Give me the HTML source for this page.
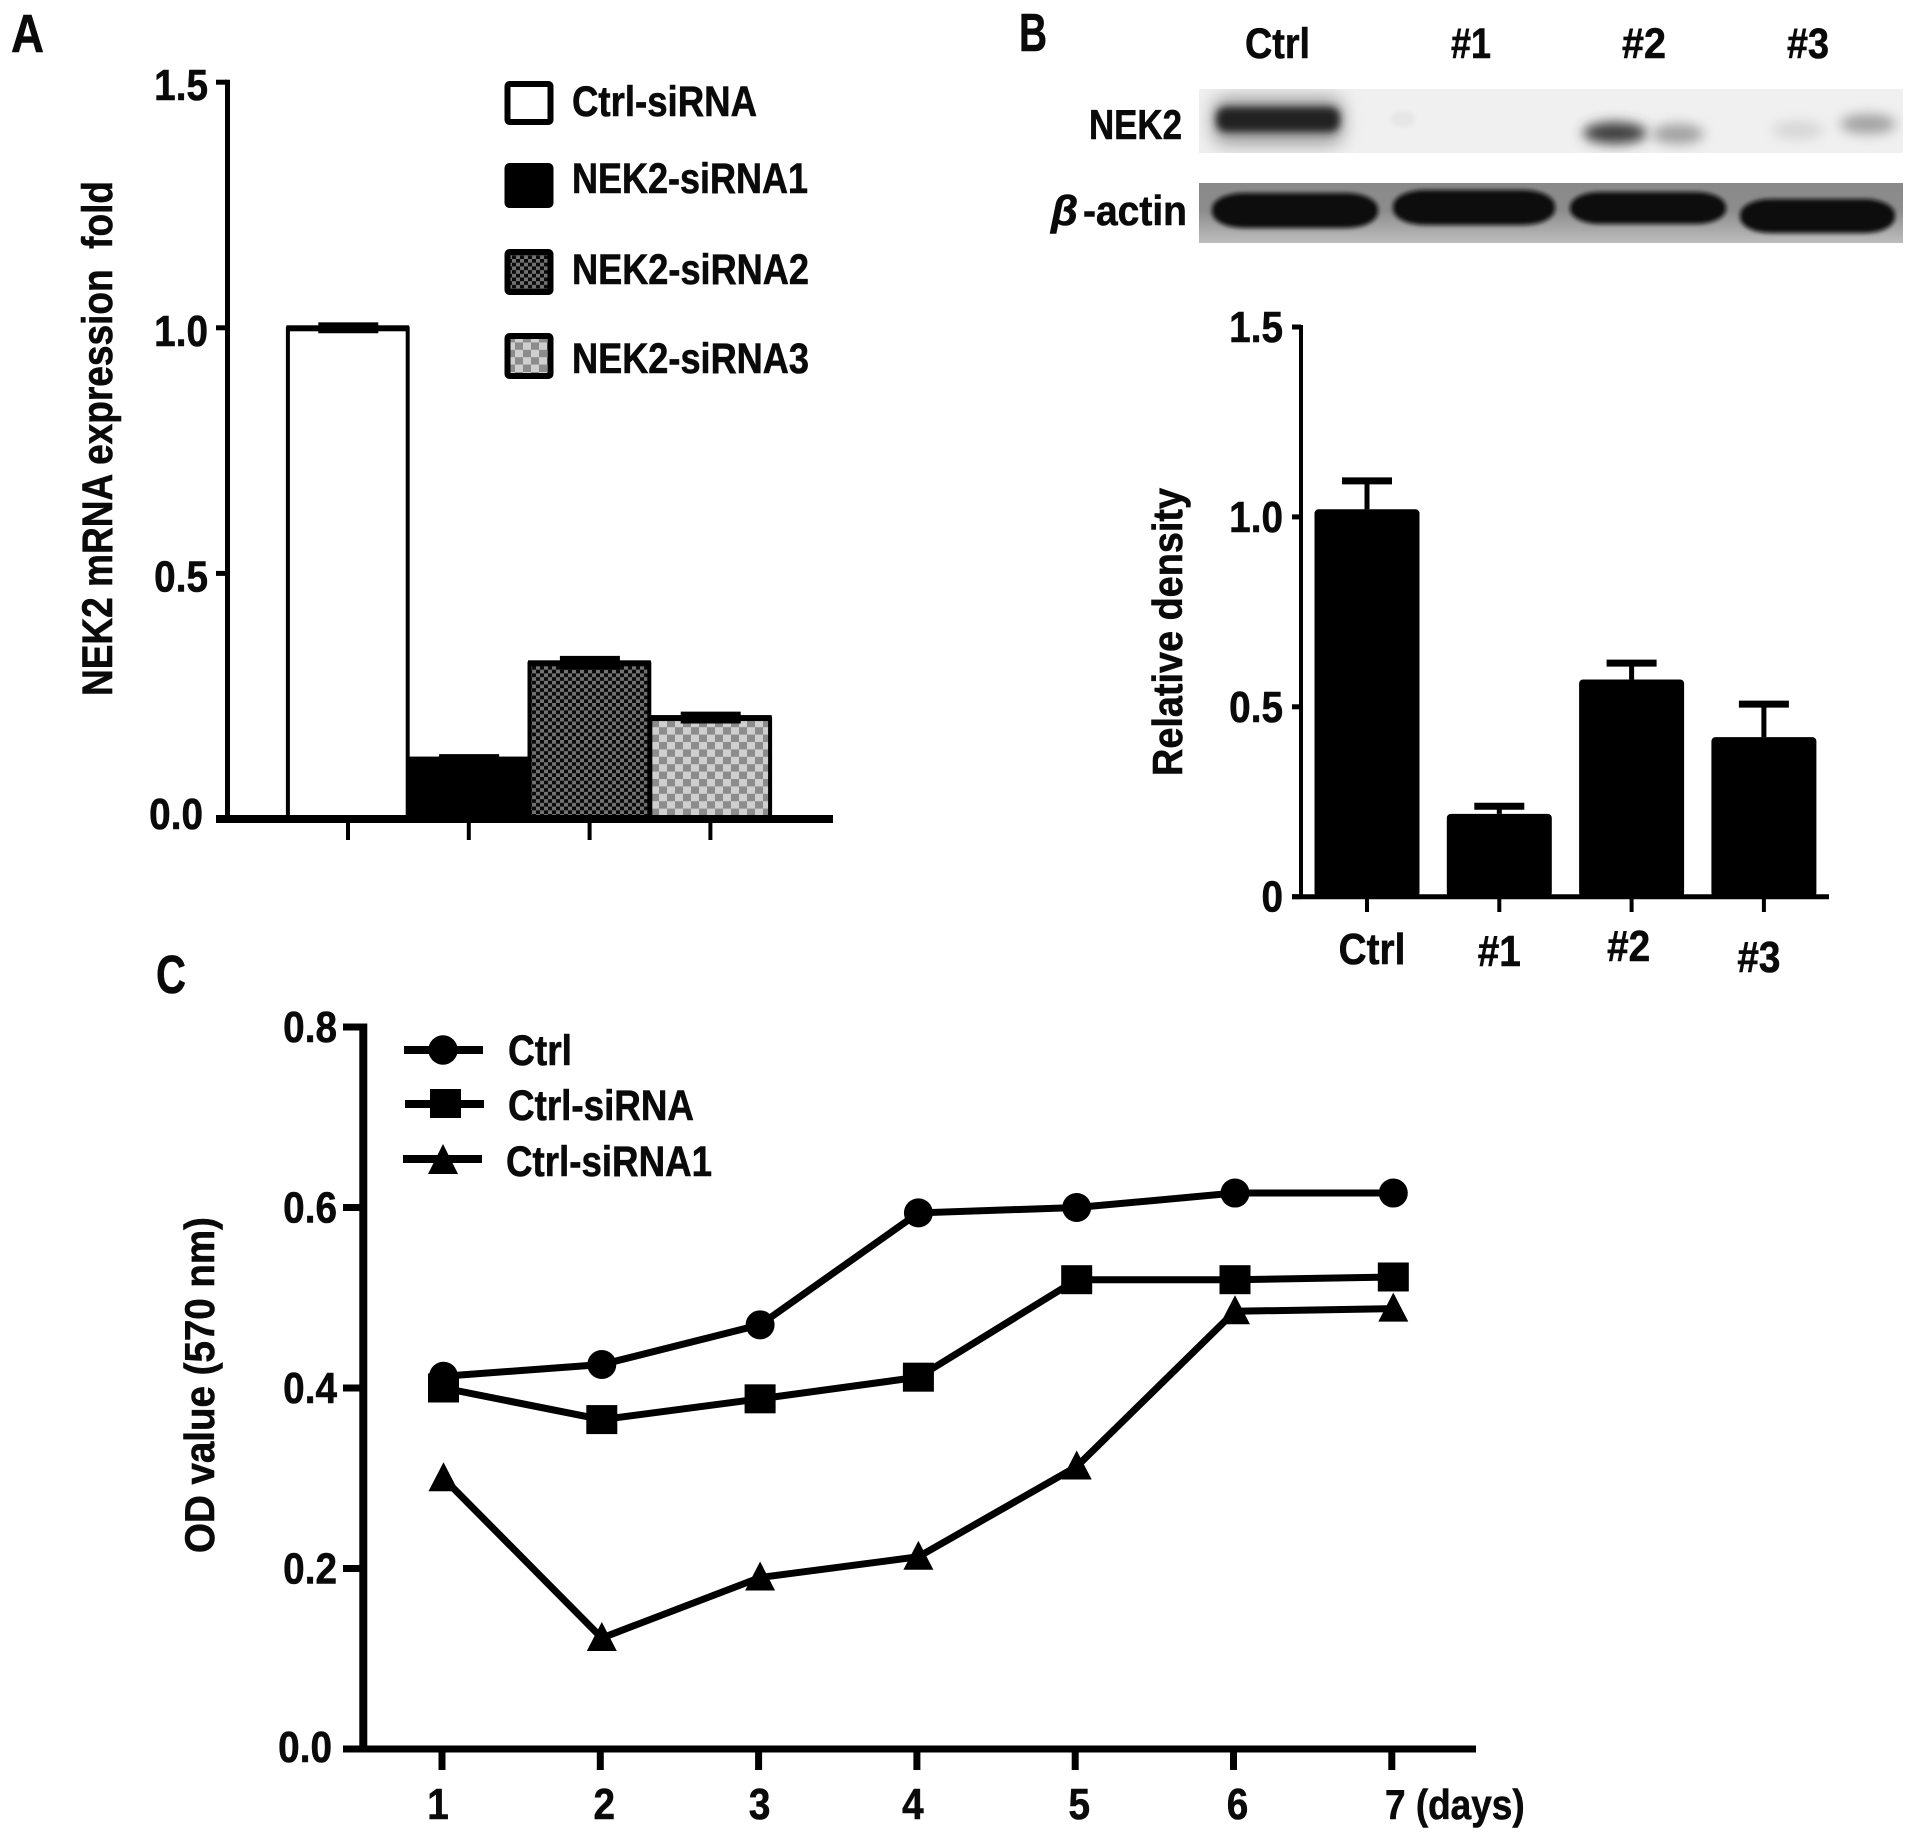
<!DOCTYPE html>
<html lang="en">
<head>
<meta charset="utf-8">
<title>NEK2 siRNA figure</title>
<style>
html,body{margin:0;padding:0;background:#fff;}
svg{display:block;}
text{font-family:"Liberation Sans",sans-serif;font-weight:bold;fill:#0a0a0a;stroke:#0a0a0a;stroke-width:.6px;white-space:pre;}
</style>
</head>
<body>
<svg id="figure" xmlns="http://www.w3.org/2000/svg" width="1913" height="1840" viewBox="0 0 1913 1840">
<defs>
<pattern id="check-dark" width="8" height="7.4" patternUnits="userSpaceOnUse" x="0" y="0">
<rect width="8" height="7.4" fill="#0a0a0a"/>
<rect width="4" height="3.7" fill="#727272"/>
<rect x="4" y="3.7" width="4" height="3.7" fill="#727272"/>
</pattern>
<pattern id="check-light" width="16" height="14.8" patternUnits="userSpaceOnUse" x="3" y="2">
<rect width="16" height="14.8" fill="#cfcfcf"/>
<rect width="8" height="7.4" fill="#8c8c8c"/>
<rect x="8" y="7.4" width="8" height="7.4" fill="#8c8c8c"/>
</pattern>
<linearGradient id="actin-bg" x1="0" y1="0" x2="0" y2="1">
<stop offset="0" stop-color="#8a8a8a"/>
<stop offset="0.45" stop-color="#8c8c8c"/>
<stop offset="1" stop-color="#bdbdbd"/>
</linearGradient>
<filter id="blur-soft" x="-30%" y="-60%" width="160%" height="220%"><feGaussianBlur stdDeviation="6"/></filter>
<filter id="blur-band" x="-20%" y="-60%" width="140%" height="220%"><feGaussianBlur stdDeviation="4"/></filter>
<filter id="blur-hard" x="-20%" y="-50%" width="140%" height="200%"><feGaussianBlur stdDeviation="2.2"/></filter>
<filter id="blur-halo" x="-20%" y="-80%" width="140%" height="260%"><feGaussianBlur stdDeviation="9"/></filter>
<clipPath id="clip-blot1"><rect x="1199" y="89" width="704" height="64"/></clipPath>
<clipPath id="clip-blot2"><rect x="1199" y="183" width="704" height="60"/></clipPath>
</defs>

<text x="11" y="52" font-size="54" textLength="33" lengthAdjust="spacingAndGlyphs">A</text>
<text x="1019" y="51" font-size="54" textLength="28" lengthAdjust="spacingAndGlyphs">B</text>
<text x="156" y="993" font-size="54" textLength="30" lengthAdjust="spacingAndGlyphs">C</text>

<g>
<rect x="507.5" y="84" width="43" height="38" rx="2" fill="#fff" stroke="#000" stroke-width="6"/>
<text x="572" y="116" font-size="43" textLength="185" lengthAdjust="spacingAndGlyphs">Ctrl-siRNA</text>
<rect x="507.5" y="166" width="43" height="39" rx="2" fill="#000" stroke="#000" stroke-width="6"/>
<text x="572" y="193" font-size="43" textLength="236" lengthAdjust="spacingAndGlyphs">NEK2-siRNA1</text>
<rect x="507.5" y="252" width="43" height="40" rx="2" fill="url(#check-dark)" stroke="#000" stroke-width="6"/>
<text x="572" y="284" font-size="43" textLength="237" lengthAdjust="spacingAndGlyphs">NEK2-siRNA2</text>
<rect x="507.5" y="336" width="43" height="40" rx="2" fill="url(#check-light)" stroke="#000" stroke-width="6"/>
<text x="572" y="373" font-size="43" textLength="237" lengthAdjust="spacingAndGlyphs">NEK2-siRNA3</text>
</g>

<g>
<text x="1245" y="58" font-size="43" textLength="65" lengthAdjust="spacingAndGlyphs">Ctrl</text>
<text x="1451" y="58" font-size="43" textLength="40" lengthAdjust="spacingAndGlyphs">#1</text>
<text x="1622" y="58" font-size="43" textLength="44" lengthAdjust="spacingAndGlyphs">#2</text>
<text x="1787" y="58" font-size="43" textLength="42" lengthAdjust="spacingAndGlyphs">#3</text>
<text x="1089" y="139" font-size="42" textLength="93" lengthAdjust="spacingAndGlyphs">NEK2</text>
<text x="1051" y="225" font-size="42" font-style="italic" textLength="27" lengthAdjust="spacingAndGlyphs">β</text>
<text x="1083" y="225" font-size="42" textLength="104" lengthAdjust="spacingAndGlyphs">-actin</text>
</g>

<g clip-path="url(#clip-blot1)">
<rect x="1199" y="89" width="704" height="64" fill="#f0f0f0"/>
<rect x="1213" y="98" width="130" height="46" rx="12" fill="#9a9a9a" filter="url(#blur-halo)"/>
<rect x="1216" y="107" width="124" height="25" rx="10" fill="#202020" filter="url(#blur-band)"/>
<ellipse cx="1403" cy="119" rx="12" ry="8" fill="#e6e6e6" filter="url(#blur-hard)"/>
<ellipse cx="1615" cy="133" rx="32" ry="11" fill="#3c3c3c" filter="url(#blur-soft)"/>
<ellipse cx="1678" cy="134" rx="26" ry="10" fill="#a0a0a0" filter="url(#blur-soft)"/>
<ellipse cx="1798" cy="130" rx="26" ry="9" fill="#d6d6d6" filter="url(#blur-soft)"/>
<ellipse cx="1868" cy="124" rx="28" ry="10" fill="#a2a2a2" filter="url(#blur-soft)"/>
</g>
<g clip-path="url(#clip-blot2)">
<rect x="1199" y="183" width="704" height="60" fill="url(#actin-bg)"/>
<rect x="1212" y="193" width="166" height="35" rx="32" ry="16" fill="#0c0c0c" filter="url(#blur-hard)"/>
<rect x="1393" y="190" width="162" height="35" rx="32" ry="16" fill="#0c0c0c" filter="url(#blur-hard)"/>
<rect x="1570" y="192" width="156" height="32" rx="30" ry="15" fill="#0c0c0c" filter="url(#blur-hard)"/>
<rect x="1740" y="199" width="155" height="34" rx="30" ry="16" fill="#0c0c0c" filter="url(#blur-hard)"/>
</g>

<g>
<line x1="404" y1="1050" x2="483" y2="1050" stroke="#000" stroke-width="8"/>
<circle cx="443" cy="1050" r="14.7" fill="#000"/>
<text x="508" y="1065" font-size="43" textLength="64" lengthAdjust="spacingAndGlyphs">Ctrl</text>
<line x1="405" y1="1104" x2="484" y2="1104" stroke="#000" stroke-width="8"/>
<rect x="430" y="1089" width="31" height="29" fill="#000"/>
<text x="508" y="1120" font-size="43" textLength="186" lengthAdjust="spacingAndGlyphs">Ctrl-siRNA</text>
<line x1="403" y1="1159" x2="482" y2="1159" stroke="#000" stroke-width="8"/>
<polygon points="443,1144 458,1174 428,1174" fill="#000"/>
<text x="506" y="1176" font-size="43" textLength="206" lengthAdjust="spacingAndGlyphs">Ctrl-siRNA1</text>
</g>

<g id="panel-a"></g>
<g id="panel-b"></g>
<g id="panel-c"></g>
</svg>

<script>
// Panel A data
const aCategories = ['Ctrl-siRNA', 'NEK2-siRNA1', 'NEK2-siRNA2', 'NEK2-siRNA3'];
const aValues = [1.0, 0.122, 0.318, 0.2065];
const aErrors = [0.006, 0.005, 0.009, 0.007];
const aTickValues = [0, 0.5, 1.0, 1.5];
const aTickLabels = ['0.0', '0.5', '1.0', '1.5'];

// Panel B data
const bCategories = ['Ctrl', '#1', '#2', '#3'];
const bValues = [1.02, 0.218, 0.572, 0.42];
const bErrors = [0.075, 0.02, 0.043, 0.087];
const bTickValues = [0, 0.5, 1.0, 1.5];
const bTickLabels = ['0', '0.5', '1.0', '1.5'];

// Panel C data
const cDays = [1, 2, 3, 4, 5, 6, 7];
const cDayLabels = ['1', '2', '3', '4', '5', '6', '7 (days)'];
const cCtrl = [0.413, 0.426, 0.47, 0.594, 0.6, 0.616, 0.616];
const cCtrlSirna = [0.40, 0.365, 0.388, 0.412, 0.52, 0.52, 0.523];
const cCtrlSirna1 = [0.30, 0.123, 0.19, 0.213, 0.313, 0.485, 0.488];
const cTickValues = [0, 0.2, 0.4, 0.6, 0.8];
const cTickLabels = ['0.0', '0.2', '0.4', '0.6', '0.8'];

const NS = 'http://www.w3.org/2000/svg';
function mk(parent, tag, attrs) {
  const node = document.createElementNS(NS, tag);
  for (const k in attrs) node.setAttribute(k, attrs[k]);
  parent.appendChild(node);
  return node;
}
function label(parent, x, y, str, size, anchor) {
  const t = mk(parent, 'text', {
    transform: 'translate(' + x + ',' + y + ') scale(0.88,1)',
    'font-size': size,
    'text-anchor': anchor
  });
  t.textContent = str;
  return t;
}
function axisLine(parent, x1, y1, x2, y2, w) {
  return mk(parent, 'line', {x1: x1, y1: y1, x2: x2, y2: y2, stroke: '#000', 'stroke-width': w});
}

/* ---------- Panel A ---------- */
(function () {
  const g = document.getElementById('panel-a');
  const y0 = 819, perUnit = 491.2;
  const yA = v => y0 - v * perUnit;
  const xA = i => 348 + i * 120.8;
  const barW = 120.8;
  const barShift = -1.2;
  const fills = ['#fff', '#000', 'url(#check-dark)', 'url(#check-light)'];

  aValues.forEach(function (v, i) {
    const bar = mk(g, 'rect', {
      x: xA(i) - barW / 2 + 1.5 + barShift, y: yA(v), width: barW - 1, height: y0 - yA(v),
      fill: fills[i], stroke: '#000', 'stroke-width': 4, 'stroke-linejoin': 'round'
    });
    
    
    const top = mk(g, 'rect', {
      x: xA(i) - barW / 2 + barShift, y: yA(v) - 2.5, width: barW + 2, height: 6, fill: '#000'
    });
    
    
    const cap = mk(g, 'rect', {
      x: xA(i) - 30 + 1.5 + barShift, y: yA(v + aErrors[i]) - 2.5, width: 60,
      height: yA(v - aErrors[i]) - yA(v + aErrors[i]) + 5, fill: '#000'
    });
    
    
    const tick = axisLine(g, xA(i), y0, xA(i), 840, 4);
    
    
  });

  const yAxis = axisLine(g, 227.5, yA(1.5) - 2.5, 227.5, y0, 5);
  
  
  const xAxis = axisLine(g, 216, y0, 833, y0, 8);
  
  

  aTickValues.forEach(function (v, i) {
    const t = axisLine(g, 216, yA(v), 227, yA(v), 5);
    
    
    const l = label(g, v === 0 ? 203 : 208, yA(v) + (v === 0 ? 10 : 18), aTickLabels[i], 44, 'end');
    
    
  });

  const title = mk(g, 'text', {
    transform: 'translate(112,696) rotate(-90)', 'font-size': 43,
    textLength: 515, lengthAdjust: 'spacingAndGlyphs'
  });
  title.textContent = 'NEK2 mRNA expression  fold';
  
  
})();

/* ---------- Panel B ---------- */
(function () {
  const g = document.getElementById('panel-b');
  const y0 = 896.7, perUnit = 379.8;
  const yB = v => y0 - v * perUnit;
  const xB = i => 1367 + i * 132.3;
  const barW = 105;
  const labelNudgeX = [5, 0, -3, -5];
  const labelBaseline = [964, 966, 961, 972];

  bValues.forEach(function (v, i) {
    const stem = axisLine(g, xB(i), yB(v + bErrors[i]), xB(i), yB(v), 5);
    
    
    const cap = axisLine(g, xB(i) - 25, yB(v + bErrors[i]), xB(i) + 25, yB(v + bErrors[i]), 7);
    
    
    const bar = mk(g, 'rect', {
      x: xB(i) - barW / 2, y: yB(v), width: barW, height: y0 - yB(v), rx: 4, fill: '#000'
    });
    
    
    const tick = axisLine(g, xB(i), y0, xB(i), 912, 4);
    
    
    const l = label(g, xB(i) + labelNudgeX[i], labelBaseline[i], bCategories[i], 44, 'middle');
    
    
  });

  const yAxis = axisLine(g, 1301, yB(1.5) - 2, 1301, y0, 4);
  
  
  const xAxis = axisLine(g, 1292, y0, 1829, y0, 5);
  
  

  bTickValues.forEach(function (v, i) {
    const t = axisLine(g, 1292, yB(v), 1301, yB(v), 5);
    
    
    const l = label(g, 1283, yB(v) + 15, bTickLabels[i], 44, 'end');
    
    
  });

  const title = mk(g, 'text', {
    transform: 'translate(1182,776) rotate(-90)', 'font-size': 42,
    textLength: 288, lengthAdjust: 'spacingAndGlyphs'
  });
  title.textContent = 'Relative density';
  
  
})();

/* ---------- Panel C ---------- */
(function () {
  const g = document.getElementById('panel-c');
  const y0 = 1749, perUnit = 902.5;
  const yC = v => y0 - v * perUnit;
  const xC = d => 442 + (d - 1) * 158.3;
  const xMark = d => xC(d) + 1.5;
  const labelNudgeX = [-4, 4, 1, -4, 4, 4, 0];

  const yAxis = axisLine(g, 363.3, yC(0.8) - 3.5, 363.3, y0, 8);
  
  
  const xAxis = axisLine(g, 343, y0, 1476, y0, 7);
  
  

  cTickValues.forEach(function (v, i) {
    const t = axisLine(g, 343, yC(v), 363.3, yC(v), 7);
    
    
    const l = label(g, v === 0 ? 332 : 337, yC(v) + (v === 0 ? 13 : 15), cTickLabels[i], 44, 'end');
    
    
  });

  cDays.forEach(function (d, i) {
    const t = axisLine(g, xC(d), y0, xC(d), 1770, 7);
    
    
    const last = i === cDays.length - 1;
    const l = label(g, last ? 1385 : xC(d) + labelNudgeX[i], 1819, cDayLabels[i], last ? 42 : 44, last ? 'start' : 'middle');
    
    
  });

  function path(values) {
    return values.map((v, i) => (i ? 'L' : 'M') + xMark(cDays[i]) + ' ' + yC(v)).join(' ');
  }

  const line1 = mk(g, 'path', {d: path(cCtrl), fill: 'none', stroke: '#000', 'stroke-width': 7});
  
  
  const line2 = mk(g, 'path', {d: path(cCtrlSirna), fill: 'none', stroke: '#000', 'stroke-width': 7});
  
  
  const line3 = mk(g, 'path', {d: path(cCtrlSirna1), fill: 'none', stroke: '#000', 'stroke-width': 7});
  
  

  cCtrl.forEach(function (v, i) {
    const m = mk(g, 'circle', {cx: xMark(cDays[i]), cy: yC(v), r: 14.5, fill: '#000'});
    
    
  });
  cCtrlSirna.forEach(function (v, i) {
    const m = mk(g, 'rect', {x: xMark(cDays[i]) - 15.5, y: yC(v) - 14.5, width: 31, height: 29, fill: '#000'});
    
    
  });
  cCtrlSirna1.forEach(function (v, i) {
    const x = xMark(cDays[i]), y = yC(v);
    const m = mk(g, 'polygon', {
      points: x + ',' + (y - 16) + ' ' + (x + 15) + ',' + (y + 13) + ' ' + (x - 15) + ',' + (y + 13),
      fill: '#000'
    });
    
    
  });

  const title = mk(g, 'text', {
    transform: 'translate(214,1553) rotate(-90)', 'font-size': 42,
    textLength: 336, lengthAdjust: 'spacingAndGlyphs'
  });
  title.textContent = 'OD value (570 nm)';
  
  
})();
</script>
</body>
</html>
